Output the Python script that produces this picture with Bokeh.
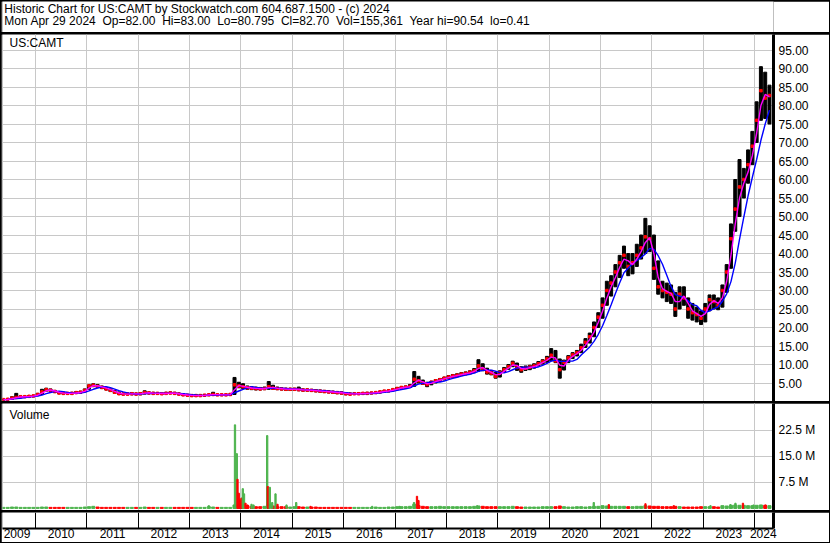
from bokeh.plotting import figure
from bokeh.models import (Range1d, FixedTicker, PrintfTickFormatter, Grid,
                          ColumnDataSource, Label)
from bokeh.layouts import column
from bokeh.embed import file_html
from bokeh.resources import INLINE
from bokeh.core.properties import value

# ---------------- texts ----------------
title_line1 = "Historic Chart for US:CAMT by Stockwatch.com 604.687.1500 - (c) 2024"
title_line2 = ("Mon Apr 29 2024\u00a0 Op=82.00\u00a0 Hi=83.00\u00a0 Lo=80.795\u00a0 Cl=82.70"
               "\u00a0 Vol=155,361\u00a0 Year hi=90.54\u00a0 lo=0.41")
symbol = "US:CAMT"
volume_title = "Volume"

# ---------------- data (monthly, May 2009 .. Apr 2024) ----------------
first_year, first_month = 2009, 5

closes = [
    0.5, 0.6, 0.9, 1.1, 1.3, 1.3, 1.4, 1.5,                              # 2009 May-Dec
    1.9, 2.6, 3.2, 3.0, 2.7, 2.3, 2.2, 2.2, 2.2, 2.4, 2.5, 3.0,          # 2010
    4.2, 4.4, 4.1, 3.8, 3.4, 3.0, 2.5, 2.1, 2.0, 2.0, 2.1, 2.0,          # 2011
    2.1, 2.4, 2.3, 2.2, 2.2, 2.1, 2.2, 2.3, 2.2, 2.0, 1.8, 1.7,          # 2012
    1.6, 1.6, 1.6, 1.7, 1.8, 1.9, 1.8, 1.8, 1.8, 1.9, 4.5, 4.2,          # 2013
    4.0, 3.7, 3.6, 3.5, 3.4, 3.5, 4.0, 3.6, 3.5, 3.4, 3.3, 3.3,          # 2014
    3.3, 3.2, 3.1, 3.1, 3.0, 2.9, 2.8, 2.7, 2.6, 2.5, 2.4, 2.3,          # 2015
    2.1, 2.0, 2.1, 2.1, 2.2, 2.2, 2.3, 2.4, 2.6, 2.8, 2.9, 3.2,          # 2016
    3.5, 3.8, 3.9, 4.1, 6.0, 5.6, 5.0, 4.6, 5.2, 5.6, 5.9, 6.3,          # 2017
    6.6, 6.9, 7.1, 7.4, 7.6, 7.9, 8.3, 9.6, 8.8, 8.0, 7.7, 6.8,          # 2018
    7.8, 8.6, 9.4, 10.3, 9.2, 8.6, 9.0, 9.3, 9.6, 10.2, 10.8, 11.5,      # 2019
    12.5, 11.0, 8.6, 10.6, 11.8, 12.6, 13.2, 14.5, 16.0, 17.5, 20.0, 22.8,  # 2020
    26.0, 30.0, 32.0, 35.0, 37.5, 39.5, 36.5, 37.5, 39.5, 41.5, 44.5, 44.0,  # 2021
    36.0, 31.0, 30.0, 29.5, 29.0, 25.0, 29.0, 28.0, 25.0, 24.0, 23.5, 22.5,  # 2022
    25.0, 27.5, 27.0, 26.0, 30.0, 35.0, 44.0, 52.0, 58.0, 60.0, 64.0, 69.0,  # 2023
    76.0, 84.0, 82.0, 82.7,                                                  # 2024 Jan-Apr
]
highs = [
    0.6, 0.8, 1.3, 2.2, 1.5, 1.5, 1.6, 1.7,
    2.2, 3.3, 3.6, 3.4, 3.0, 2.7, 2.5, 2.4, 2.5, 2.7, 2.8, 3.4,
    4.5, 4.8, 4.6, 4.2, 3.8, 3.4, 3.0, 2.6, 2.3, 2.3, 2.4, 2.3,
    2.4, 2.9, 2.6, 2.5, 2.4, 2.4, 2.5, 2.6, 2.5, 2.3, 2.0, 1.9,
    1.8, 1.8, 1.8, 1.9, 2.0, 2.5, 2.0, 2.0, 2.0, 2.1, 6.5, 5.2,
    4.8, 4.2, 4.0, 3.9, 3.8, 3.9, 5.4, 4.4, 3.9, 3.7, 3.6, 3.6,
    3.6, 3.9, 3.4, 3.4, 3.3, 3.2, 3.1, 3.0, 2.9, 2.8, 2.7, 2.6,
    2.4, 2.3, 2.3, 2.4, 2.4, 2.5, 2.5, 2.6, 2.8, 3.0, 3.1, 3.4,
    3.8, 4.0, 4.2, 4.6, 8.1, 6.8, 5.8, 5.2, 5.5, 5.9, 6.2, 6.6,
    7.0, 7.3, 7.5, 7.8, 8.0, 8.3, 8.9, 11.3, 10.2, 9.0, 8.4, 7.8,
    8.3, 9.2, 10.0, 10.9, 10.4, 9.4, 9.6, 9.8, 10.2, 10.8, 11.3, 12.2,
    14.3, 13.8, 11.5, 11.2, 12.4, 13.2, 13.8, 15.5, 17.0, 18.5, 21.5, 24.0,
    28.0, 32.5, 34.0, 37.0, 39.5, 42.0, 40.0, 40.0, 42.5, 45.0, 49.5, 47.5,
    45.0, 38.0, 32.5, 32.0, 31.5, 29.5, 31.0, 31.0, 28.0, 26.5, 25.5, 24.5,
    26.5, 28.8, 28.8, 28.0, 31.5, 37.0, 48.0, 60.0, 65.4, 63.0, 68.0, 73.0,
    81.0, 90.5, 89.0, 85.5,
]
lows = [
    0.41, 0.5, 0.6, 0.9, 1.1, 1.1, 1.2, 1.3,
    1.6, 1.9, 2.8, 2.7, 2.4, 2.1, 2.0, 2.0, 2.0, 2.2, 2.3, 2.6,
    3.3, 4.0, 3.8, 3.5, 3.1, 2.7, 2.2, 1.9, 1.8, 1.8, 1.8, 1.8,
    1.8, 2.0, 2.1, 2.0, 2.0, 1.9, 2.0, 2.1, 2.0, 1.8, 1.6, 1.5,
    1.4, 1.4, 1.4, 1.5, 1.6, 1.7, 1.6, 1.6, 1.6, 1.7, 1.9, 3.7,
    3.5, 3.3, 3.2, 3.1, 3.1, 3.2, 3.3, 3.3, 3.2, 3.1, 3.0, 3.0,
    3.0, 2.9, 2.8, 2.8, 2.7, 2.6, 2.5, 2.4, 2.3, 2.2, 2.1, 2.0,
    1.8, 1.8, 1.9, 1.9, 2.0, 2.0, 2.1, 2.2, 2.3, 2.5, 2.6, 2.9,
    3.2, 3.4, 3.6, 3.8, 4.1, 5.0, 4.6, 4.0, 4.5, 5.0, 5.4, 5.8,
    6.2, 6.5, 6.7, 7.0, 7.2, 7.4, 7.8, 8.2, 8.3, 7.4, 7.2, 6.3,
    6.6, 7.9, 8.7, 9.4, 8.4, 7.9, 8.4, 8.6, 9.0, 9.6, 10.1, 10.6,
    11.0, 10.5, 6.3, 8.5, 10.5, 11.6, 12.3, 13.2, 14.6, 15.8, 17.5, 20.0,
    22.5, 26.0, 28.5, 31.0, 33.5, 36.0, 34.0, 34.5, 36.5, 38.5, 40.0, 40.5,
    33.0, 29.0, 28.0, 27.0, 26.5, 23.0, 25.0, 26.0, 22.5, 22.0, 21.5, 20.8,
    21.5, 24.5, 25.0, 24.8, 25.5, 29.5, 36.0, 46.0, 50.0, 55.0, 59.0, 64.0,
    70.0, 76.0, 76.5, 75.0,
]
# typical daily volume per month, millions
volumes = [
    0.3, 0.3, 0.4, 0.4, 0.3, 0.3, 0.3, 0.3,
    0.3, 0.4, 0.4, 0.3, 0.3, 0.3, 0.3, 0.3, 0.3, 0.3, 0.3, 0.4,
    0.5, 0.6, 0.4, 0.3, 0.3, 0.3, 0.3, 0.3, 0.3, 0.3, 0.3, 0.3,
    0.3, 0.4, 0.3, 0.3, 0.3, 0.3, 0.3, 0.3, 0.3, 0.3, 0.3, 0.3,
    0.3, 0.3, 0.3, 0.3, 0.5, 0.4, 0.3, 0.3, 0.3, 0.3, 1.0, 1.5,
    1.2, 0.8, 0.6, 0.5, 0.5, 0.6, 1.2, 0.7, 0.5, 0.5, 0.5, 0.4,
    0.5, 0.5, 0.4, 0.4, 0.4, 0.4, 0.3, 0.3, 0.3, 0.3, 0.3, 0.3,
    0.3, 0.3, 0.3, 0.3, 0.3, 0.3, 0.3, 0.4, 0.3, 0.3, 0.4, 0.4,
    0.5, 0.5, 0.5, 0.6, 1.2, 0.8, 0.6, 0.5, 0.5, 0.5, 0.6, 0.5,
    0.5, 0.5, 0.5, 0.5, 0.5, 0.5, 0.6, 0.7, 0.6, 0.5, 0.5, 0.5,
    0.5, 0.5, 0.5, 0.6, 0.5, 0.4, 0.4, 0.4, 0.4, 0.4, 0.5, 0.5,
    0.5, 0.5, 0.7, 0.5, 0.4, 0.4, 0.5, 0.5, 0.4, 0.5, 0.6, 0.6,
    0.8, 0.7, 0.6, 0.6, 0.6, 0.6, 0.5, 0.5, 0.6, 0.6, 0.8, 0.7,
    0.6, 0.6, 0.5, 0.5, 0.5, 0.6, 0.5, 0.4, 0.4, 0.4, 0.4, 0.5,
    0.5, 0.5, 0.5, 0.4, 0.8, 0.7, 0.9, 1.0, 0.9, 0.9, 0.8, 0.8,
    0.9, 1.0, 0.9, 0.8,
]
# individual high-volume days (fractional year, millions, 1 = up day)
spike_t = [2013.374, 2013.884, 2013.919, 2013.933, 2013.958, 2013.982, 2014.011, 2014.036,
           2014.060, 2014.089, 2014.128, 2014.206, 2014.245, 2014.511, 2014.523, 2014.562,
           2014.609, 2014.673, 2014.712, 2014.887, 2015.076, 2015.354, 2016.556, 2017.087,
           2017.370, 2017.428, 2017.457, 2018.600, 2020.870, 2021.163, 2021.877, 2022.428,
           2023.143, 2023.532, 2023.629, 2023.775, 2023.980, 2024.213]
spike_v = [0.8, 24.1, 15.8, 8.4, 4.4, 2.5, 3.0, 5.7, 4.2, 1.5, 1.0, 1.2, 1.0, 21.0, 6.3, 6.1,
           1.7, 4.2, 1.2, 1.0, 1.7, 0.6, 0.6, 0.6, 1.7, 3.5, 2.3, 0.8, 1.7, 1.1, 1.35, 0.8,
           0.8, 1.1, 1.5, 1.5, 1.0, 1.0]
spike_up = [1, 1, 1, 0, 0, 0, 0, 1, 1, 0, 0, 1, 1, 1, 0, 1, 1, 1, 0, 1, 1, 0, 1, 1, 1, 0, 0,
            1, 1, 0, 0, 0, 1, 1, 1, 0, 1, 0]

price_ticks = [5, 10, 15, 20, 25, 30, 35, 40, 45, 50, 55, 60, 65, 70, 75, 80, 85, 90, 95]
volume_ticks = [7.5, 15.0, 22.5]
year_bounds = list(range(2010, 2025))
year_labels = ["2009", "2010", "2011", "2012", "2013", "2014", "2015", "2016", "2017",
               "2018", "2019", "2020", "2021", "2022", "2023", "2024"]
year_label_pos = [2009.64] + [y + 0.5 for y in range(2010, 2024)] + [2024.17]

# ---------------- derived ----------------
n = len(closes)
assert len(highs) == n and len(lows) == n and len(volumes) == n
t = [first_year + (first_month - 1 + i + 0.5) / 12 for i in range(n)]


def sma(vals, k):
    out = []
    for i in range(len(vals)):
        w = vals[max(0, i - k + 1):i + 1]
        out.append(sum(w) / len(w))
    return out


ma_fast = sma(closes, 2)
ma_slow = sma(closes, 5)

GREEN = "#4cb34c"
RED = "#ff0000"
GRID = "#c8c8c8"
vol_colors = [GREEN if (i == 0 or closes[i] >= closes[i - 1]) else RED for i in range(n)]
spike_colors = [GREEN if u else RED for u in spike_up]

# ---------------- layout constants ----------------
W = 828
H_HDR, H_PRICE, H_VOL, H_DATE = 31, 367, 107, 30
LEFT, RIGHT = 1, 56
FONT = "Liberation Sans"
FS = "12px"

xr = Range1d(2009.357, 2024.37)


def style_right_axis(ax, ticks, fmt):
    ax.ticker = FixedTicker(ticks=ticks)
    ax.formatter = PrintfTickFormatter(format=fmt)
    ax.major_tick_out = 0
    ax.major_tick_in = 0
    ax.minor_tick_out = 0
    ax.minor_tick_in = 0
    ax.axis_line_color = "black"
    ax.axis_line_width = 3
    ax.major_label_text_font = FONT
    ax.major_label_text_font_size = FS
    ax.major_label_text_color = "black"
    ax.major_label_standoff = 5


# ---------------- header ----------------
hdr = figure(width=W, height=H_HDR, x_range=Range1d(0, W), y_range=Range1d(H_HDR, 0),
             output_backend="svg", toolbar_location=None, min_border=0,
             x_axis_location=None, y_axis_location=None)
hdr.outline_line_color = None
hdr.grid.visible = False
hdr.text(x=[2, 2], y=[7, 19.5], text=[title_line1, title_line2],
         text_font=value(FONT), text_font_size=FS, text_baseline="middle",
         text_align="left", text_color="black")

# ---------------- price panel ----------------
src = ColumnDataSource(dict(t=t, close=closes, high=highs, low=lows,
                            ma_fast=ma_fast, ma_slow=ma_slow))
pf = figure(width=W, height=H_PRICE, x_range=xr, y_range=Range1d(0, 99.19),
            output_backend="svg", toolbar_location=None, x_axis_location=None,
            y_axis_location="right", min_border_left=LEFT, min_border_right=RIGHT,
            min_border_top=0, min_border_bottom=0)
pf.outline_line_color = None
style_right_axis(pf.yaxis[0], price_ticks, "%.2f")
pf.ygrid.grid_line_color = GRID
pf.add_layout(Grid(dimension=0, ticker=FixedTicker(ticks=year_bounds), grid_line_color=GRID))
pf.vbar(x="t", top="high", bottom="low", width=0.7 / 12, color="black", source=src)
pf.scatter(x="t", y="close", marker="square", size=2.5, color=RED, source=src)
pf.line(x="t", y="ma_slow", line_color="#0000ff", line_width=1.4, source=src)
pf.line(x="t", y="ma_fast", line_color="#ff00ff", line_width=1.4, source=src)
pf.add_layout(Label(x=xr.start, y=99.19, x_offset=7, y_offset=-8, text=symbol,
                    text_font=FONT, text_font_size=FS, text_baseline="middle",
                    text_color="black"))

# ---------------- volume panel ----------------
vsrc = ColumnDataSource(dict(t=t, vol=volumes, color=vol_colors))
ssrc = ColumnDataSource(dict(t=spike_t, vol=spike_v, color=spike_colors))
vf = figure(width=W, height=H_VOL, x_range=xr, y_range=Range1d(-0.6, 30.26),
            output_backend="svg", toolbar_location=None, x_axis_location=None,
            y_axis_location="right", min_border_left=LEFT, min_border_right=RIGHT,
            min_border_top=0, min_border_bottom=0)
vf.outline_line_color = None
style_right_axis(vf.yaxis[0], volume_ticks, "%.1f M")
vf.ygrid.grid_line_color = GRID
vf.add_layout(Grid(dimension=0, ticker=FixedTicker(ticks=year_bounds), grid_line_color=GRID))
vf.vbar(x="t", top="vol", bottom=0, width=0.06, color="color", source=vsrc)
vf.vbar(x="t", top="vol", bottom=0, width=0.025, color="color", source=ssrc)
vf.add_layout(Label(x=xr.start, y=30.26, x_offset=7, y_offset=-11, text=volume_title,
                    text_font=FONT, text_font_size=FS, text_baseline="middle",
                    text_color="black"))

# ---------------- date row ----------------
df = figure(width=W, height=H_DATE, x_range=xr, y_range=Range1d(0, 1),
            output_backend="svg", toolbar_location=None, x_axis_location="below",
            y_axis_location="right", min_border_left=LEFT, min_border_right=RIGHT,
            min_border_top=0, min_border_bottom=14)
df.outline_line_color = None
xa = df.xaxis[0]
xa.ticker = FixedTicker(ticks=year_label_pos)
xa.major_label_overrides = {p: lab for p, lab in zip(year_label_pos, year_labels)}
xa.major_tick_out = 0
xa.major_tick_in = 0
xa.minor_tick_out = 0
xa.minor_tick_in = 0
xa.axis_line_color = "black"
xa.axis_line_width = 2
xa.major_label_standoff = 0
xa.major_label_text_font = FONT
xa.major_label_text_font_size = FS
xa.major_label_text_color = "black"
ya = df.yaxis[0]
ya.ticker = FixedTicker(ticks=[])
ya.major_tick_out = 0
ya.minor_tick_out = 0
ya.axis_line_color = "black"
ya.axis_line_width = 3
ya.major_label_text_font_size = "0px"
df.xgrid.ticker = FixedTicker(ticks=year_bounds)
df.xgrid.grid_line_color = "black"
df.xgrid.grid_line_width = 1
df.ygrid.visible = False

layout = column(hdr, pf, vf, df, spacing=2,
                styles={"background-color": "black", "padding": "1px"})
open("out.html", "w").write(file_html(layout, INLINE))
